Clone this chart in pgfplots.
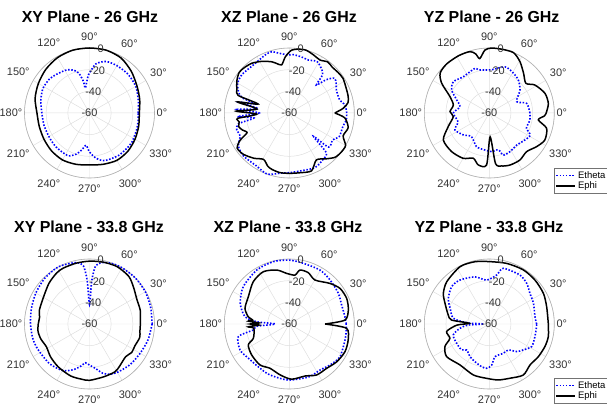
\documentclass[border=0pt]{standalone}
\usepackage{pgfplots}
\pgfplotsset{compat=1.18}
\usepackage{pgfplotstable}
\usepgfplotslibrary{polar}
\usepackage{fontspec}
\setmainfont{Liberation Sans}

% angle (deg) and gain (dB)
\pgfplotstableread{
a d
0 -15
15 -13.4
30 -10.7
45 -9.6
60 -9.5
72 -10
81.7 -13.6
85 -17
91.5 -24.8
95 -31
99.8 -36.7
101 -30
105 -22
110 -18
117.6 -15
125 -14
132 -12.8
140 -11.5
152 -11.4
165 -13.5
180 -16
195 -16.5
205 -16.8
215 -16.5
225 -16
235 -16
244 -16
252 -20
258 -25
264 -30
270 -24
278 -18
285 -14.5
292 -13.5
305 -12.5
318 -12.5
325 -12.4
340 -13.8
350 -14.5
360 -15
}\xyAth
\pgfplotstableread{
a d
0 -14
15 -12
30 -9.5
45 -5.5
60 -1.5
75 0
90 0
105 0
120 -1
135 -3
150 -5.5
165 -8
180 -11.5
195 -12
210 -11.5
225 -10.5
240 -10
255 -11
270 -12
285 -11
300 -9.5
315 -10
330 -11.5
345 -13
360 -14
}\xyAph
\pgfplotstableread{
a d
0 -7
8 -8
15 -12
26 -11.6
32 -9
37.5 -7.3
42 -14
46 -24
49 -13
55 -9
62 -6
70 -8
78 -7
86 -6
91 -6.4
99 -4.3
106 -1.2
112.6 -2
126.7 -4.6
141 -3.7
150 -5
157 -9
162 -14
165 -27
168 -12
172 -31
176 -12
180 -32
184 -12
188 -27
192 -12
198 -9
205 -10
213 -4
223 -2
238 -2.5
250 0
261 -3.7
270 -4.9
280 -5.6
295 -4.3
306 -7
313 -10
316 -29
319 -12
328 -12.8
335 -9
346 -9
353 -7
360 -7
}\xzAth
\pgfplotstableread{
a d
0 -18
5 -10
10 -5
16 -3.5
25 -2.5
33 -1
40 -1.5
47 -2
53 -1
60 -3.5
67 -2
75 0
82 -0.5
88 -2
94 -8
99 -15
104 -13
109 -10
118 -6
127 -2.5
135 -1
141 -0.5
148 -3
156 -7
161 -10
164 -30
168 -11
173 -30
178 -11
182 -30
186 -12
190 -13
195 -11.6
200 -14
205 -17
209 -8
214 -2
222 -3
232 -7
241 -11
248 -7
253 -5.5
261 -4.3
270 -4.3
280 -4
291 -2.8
300 -10
309 -5.6
316 -1.2
323 0
330 0
337 -6
346 -4
355 -8.6
360 -18
}\xzAph
\pgfplotstableread{
a d
0 -22.5
14.5 -24.4
22.5 -32.6
36.9 -24.6
48.7 -19.4
59 -17
71 -15
87 -20
104 -19
108 -16.7
125.6 -18.8
139 -16
148.6 -19.3
158 -27.5
168 -32.3
180 -26.8
195.6 -30
206 -24.6
220 -28.6
233 -32.7
249 -26.8
263 -25.6
273.5 -24.3
284 -25
288.4 -19
298 -19.5
310.5 -21
323 -18.7
331.6 -17
338 -23
350 -22
360 -22.5
}\yzAth
\pgfplotstableread{
a d
0 -7.5
9 -4.8
19.5 -5.5
31.5 -10.6
39 -16.5
49 -11.7
59 -4.9
68 0
78 0
88 0
94 -1.8
100 -9
103 -4
107.5 -0.6
118 0
131 0
141 -1.6
148 -8.2
157.4 -20.7
167.5 -26
178 -23.7
185.8 -26.6
198.4 -20
210.4 -10.8
225.7 -10.2
240 -11.7
250.6 -15.7
258 -11
267 -12
272 -38
277 -13
283 -9.8
291.7 -8.3
303 -8.2
314 -10.4
324.6 -6.4
334 -3
345 -5.2
352 -14.3
357 -9
360 -7.5
}\yzAph
\pgfplotstableread{
a d
0 -2.2
15 -1.5
30 -0.5
45 0
60 0
70 -0.5
78 -2
84 -6
87 -20
90 -42
93 -20
96 -6
102 -2
115 -0.3
121.7 0
135 -1
150 -2.8
165 -4.5
180 -5.5
195 -6
207 -7
225 -8
240 -10.5
250 -15
258 -20
264 -24
270 -22
277 -19
285 -13
292 -10
300 -8.5
315 -7
330 -6
345 -4
360 -2.2
}\xyBth
\pgfplotstableread{
a d
0 -13
15 -11.5
27 -10.8
40 -7
50.5 -3
64.5 -1.2
78 -1.5
90 -2
102 -2.5
115 -3
122.8 -4
135 -7
150.8 -11
165 -12
172 -13.5
180 -12.7
188 -12
197 -13
208 -15
220 -13
234 -11
250 -9
262 -8.5
270 -8
285 -9.5
298 -10
305 -12
318 -15
326 -13
334 -13.5
345 -12
352 -13
360 -13
}\xyBph
\pgfplotstableread{
a d
0 -7.5
7.5 -8.2
20 -8.6
32 -6.6
47 -4.6
60.4 -2.7
77 -2.5
90 -1
104.4 -0.6
121 -1.8
141 -5.3
157 -10.8
170.6 -18.5
176 -30
180 -47
184 -30
189.5 -26
194 -11.5
207.8 -8.6
220 -10.8
236.5 -11
249 -9.7
268.7 -8.3
290 -8
304 -8.9
314.8 -6.7
327 -4.3
344 -6.5
352 -7
360 -7.5
}\xzBth
\pgfplotstableread{
a d
0 -27
4 -8.5
13.3 -4
24 -2
35 -2.8
45 -7
59.7 -13
69.7 -9.5
78.8 -9.2
83.4 -14.5
93 -13.2
103 -8.9
116.4 -6.1
130.4 -8.7
146 -14.5
160.5 -16.6
170 -21.5
174 -26
176 -22
178 -32
180 -24
182 -32
184 -22
187 -27
201.7 -24.3
207 -17.5
219.5 -15
234.4 -13.5
246.4 -15.4
260 -12.2
272.4 -9
287 -9.8
298.2 -6.6
310 -6.5
321.5 -4
333.6 -2.6
345 -3.7
355.7 -7
360 -27
}\xzBph
\pgfplotstableread{
a d
0 -16.3
9 -17.3
25 -15
37 -13
47.4 -9
58 -6.7
75.9 -7
81.5 -14.3
93.5 -19.4
107 -14.5
123.7 -11.2
135 -11
148 -15.4
158 -21
171 -26.5
177 -40
180 -55
183 -40
188.4 -32.6
197 -25.2
210.6 -25
223 -25
229 -28.2
239.4 -25
249 -22.8
259.8 -20
266.6 -19
273.3 -22
280 -29.4
295.5 -30
306.2 -30.3
315 -24
322.6 -20.6
332 -15.7
344.5 -16.3
357 -16.3
360 -16.3
}\yzBth
\pgfplotstableread{
a d
0 -5.5
16.8 -4.7
29.6 -2.6
44 -1.5
58 -1
74 -1.8
90 -2.4
103 -1
117 -0.6
135 -4.6
146.3 -9
155 -14.9
167.6 -21.2
174 -25
178 -41.5
182 -30
190 -20
200 -21.3
207 -14
217.4 -10.4
234.4 -13.5
252.6 -10.7
267 -9.8
279 -7.7
291 -6.4
303.7 -3.4
315 -6.7
326.3 -5.6
338 -4.6
348 -4.3
360 -5.5
}\yzBph

\pgfplotsset{
  pat/.style={
    scale only axis, width=130bp, height=130bp,
    anchor=center,
    xmin=0, xmax=360, ymin=0, ymax=60,
    xtick={0,30,...,330},
    xticklabels={0°,30°,60°,90°,120°,150°,180°,210°,240°,270°,300°,330°},
    ytick={20,40,60}, yticklabels={},
    grid=major, major grid style={black!13, line width=0.5bp},
    axis line style={black!30, line width=0.6bp},
    y axis line style={draw=none},
    major tick length=0pt,
    tick label style={font=\fontsize{11}{12}\selectfont, text=black!80},
    xticklabel style={inner xsep=2bp, inner ysep=7bp},
    clip=false,
    legend cell align=left,
    legend image code/.code={\draw[#1] (0bp,0bp) -- (19bp,0bp);},
    legend style={font=\fontsize{9.5}{10}\selectfont, draw=black!55,
      line width=0.5bp, inner sep=1bp, row sep=-1.5bp, fill=white},
  },
  eth/.style={blue, line width=1.6bp, dash pattern=on 1.5bp off 1.7bp, smooth, tension=0.45},
  eph/.style={black, line width=1.5bp, smooth, tension=0.45},
}
\tikzset{rl/.style={font=\fontsize{11}{12}\selectfont, text=black!80, inner sep=0pt}}
\newcommand\rlab{%
  \node[rl] at (axis cs:80,0) {-60};
  \node[rl] at (axis cs:80,20) {-40};
  \node[rl] at (axis cs:80,40) {-20};
  \node[rl] at (axis cs:80,60) {0};}
\newcommand\ttl[3]{\node[font=\bfseries\fontsize{16}{18}\selectfont, anchor=base] at (#1bp,#2bp) {#3};}

\begin{document}
\begin{tikzpicture}
\path[use as bounding box] (0,0) rectangle (607bp,405bp);

\begin{polaraxis}[pat, at={(89.5bp,292bp)}]
\addplot[eth] table[x=a, y expr=\thisrow{d}+60] {\xyAth};
\addplot[eph] table[x=a, y expr=\thisrow{d}+60] {\xyAph};
\rlab
\end{polaraxis}

\begin{polaraxis}[pat, at={(289.3bp,292bp)}]
\addplot[eth] table[x=a, y expr=\thisrow{d}+60] {\xzAth};
\addplot[eph] table[x=a, y expr=\thisrow{d}+60] {\xzAph};
\rlab
\end{polaraxis}

\begin{polaraxis}[pat, at={(489.3bp,292bp)},
  legend style={at={(axis description cs:1,0.077)}, anchor=north west}]
\addplot[eth] table[x=a, y expr=\thisrow{d}+60] {\yzAth};
\addlegendentry{Etheta}
\addplot[eph] table[x=a, y expr=\thisrow{d}+60] {\yzAph};
\addlegendentry{Ephi}
\rlab
\end{polaraxis}

\begin{polaraxis}[pat, at={(89.5bp,81bp)}]
\addplot[eth] table[x=a, y expr=\thisrow{d}+60] {\xyBth};
\addplot[eph] table[x=a, y expr=\thisrow{d}+60] {\xyBph};
\rlab
\end{polaraxis}

\begin{polaraxis}[pat, at={(289.3bp,81bp)}]
\addplot[eth] table[x=a, y expr=\thisrow{d}+60] {\xzBth};
\addplot[eph] table[x=a, y expr=\thisrow{d}+60] {\xzBph};
\rlab
\end{polaraxis}

\begin{polaraxis}[pat, at={(489.3bp,81bp)},
  legend style={at={(axis description cs:1,0.085)}, anchor=north west}]
\addplot[eth] table[x=a, y expr=\thisrow{d}+60] {\yzBth};
\addlegendentry{Etheta}
\addplot[eph] table[x=a, y expr=\thisrow{d}+60] {\yzBph};
\addlegendentry{Ephi}
\rlab
\end{polaraxis}

\ttl{90}{382.3}{XY Plane - 26 GHz}
\ttl{289}{382.3}{XZ Plane - 26 GHz}
\ttl{491.7}{382.3}{YZ Plane - 26 GHz}
\ttl{89}{172.3}{XY Plane - 33.8 GHz}
\ttl{288}{172.3}{XZ Plane - 33.8 GHz}
\ttl{489}{172.3}{YZ Plane - 33.8 GHz}
\end{tikzpicture}
\end{document}
